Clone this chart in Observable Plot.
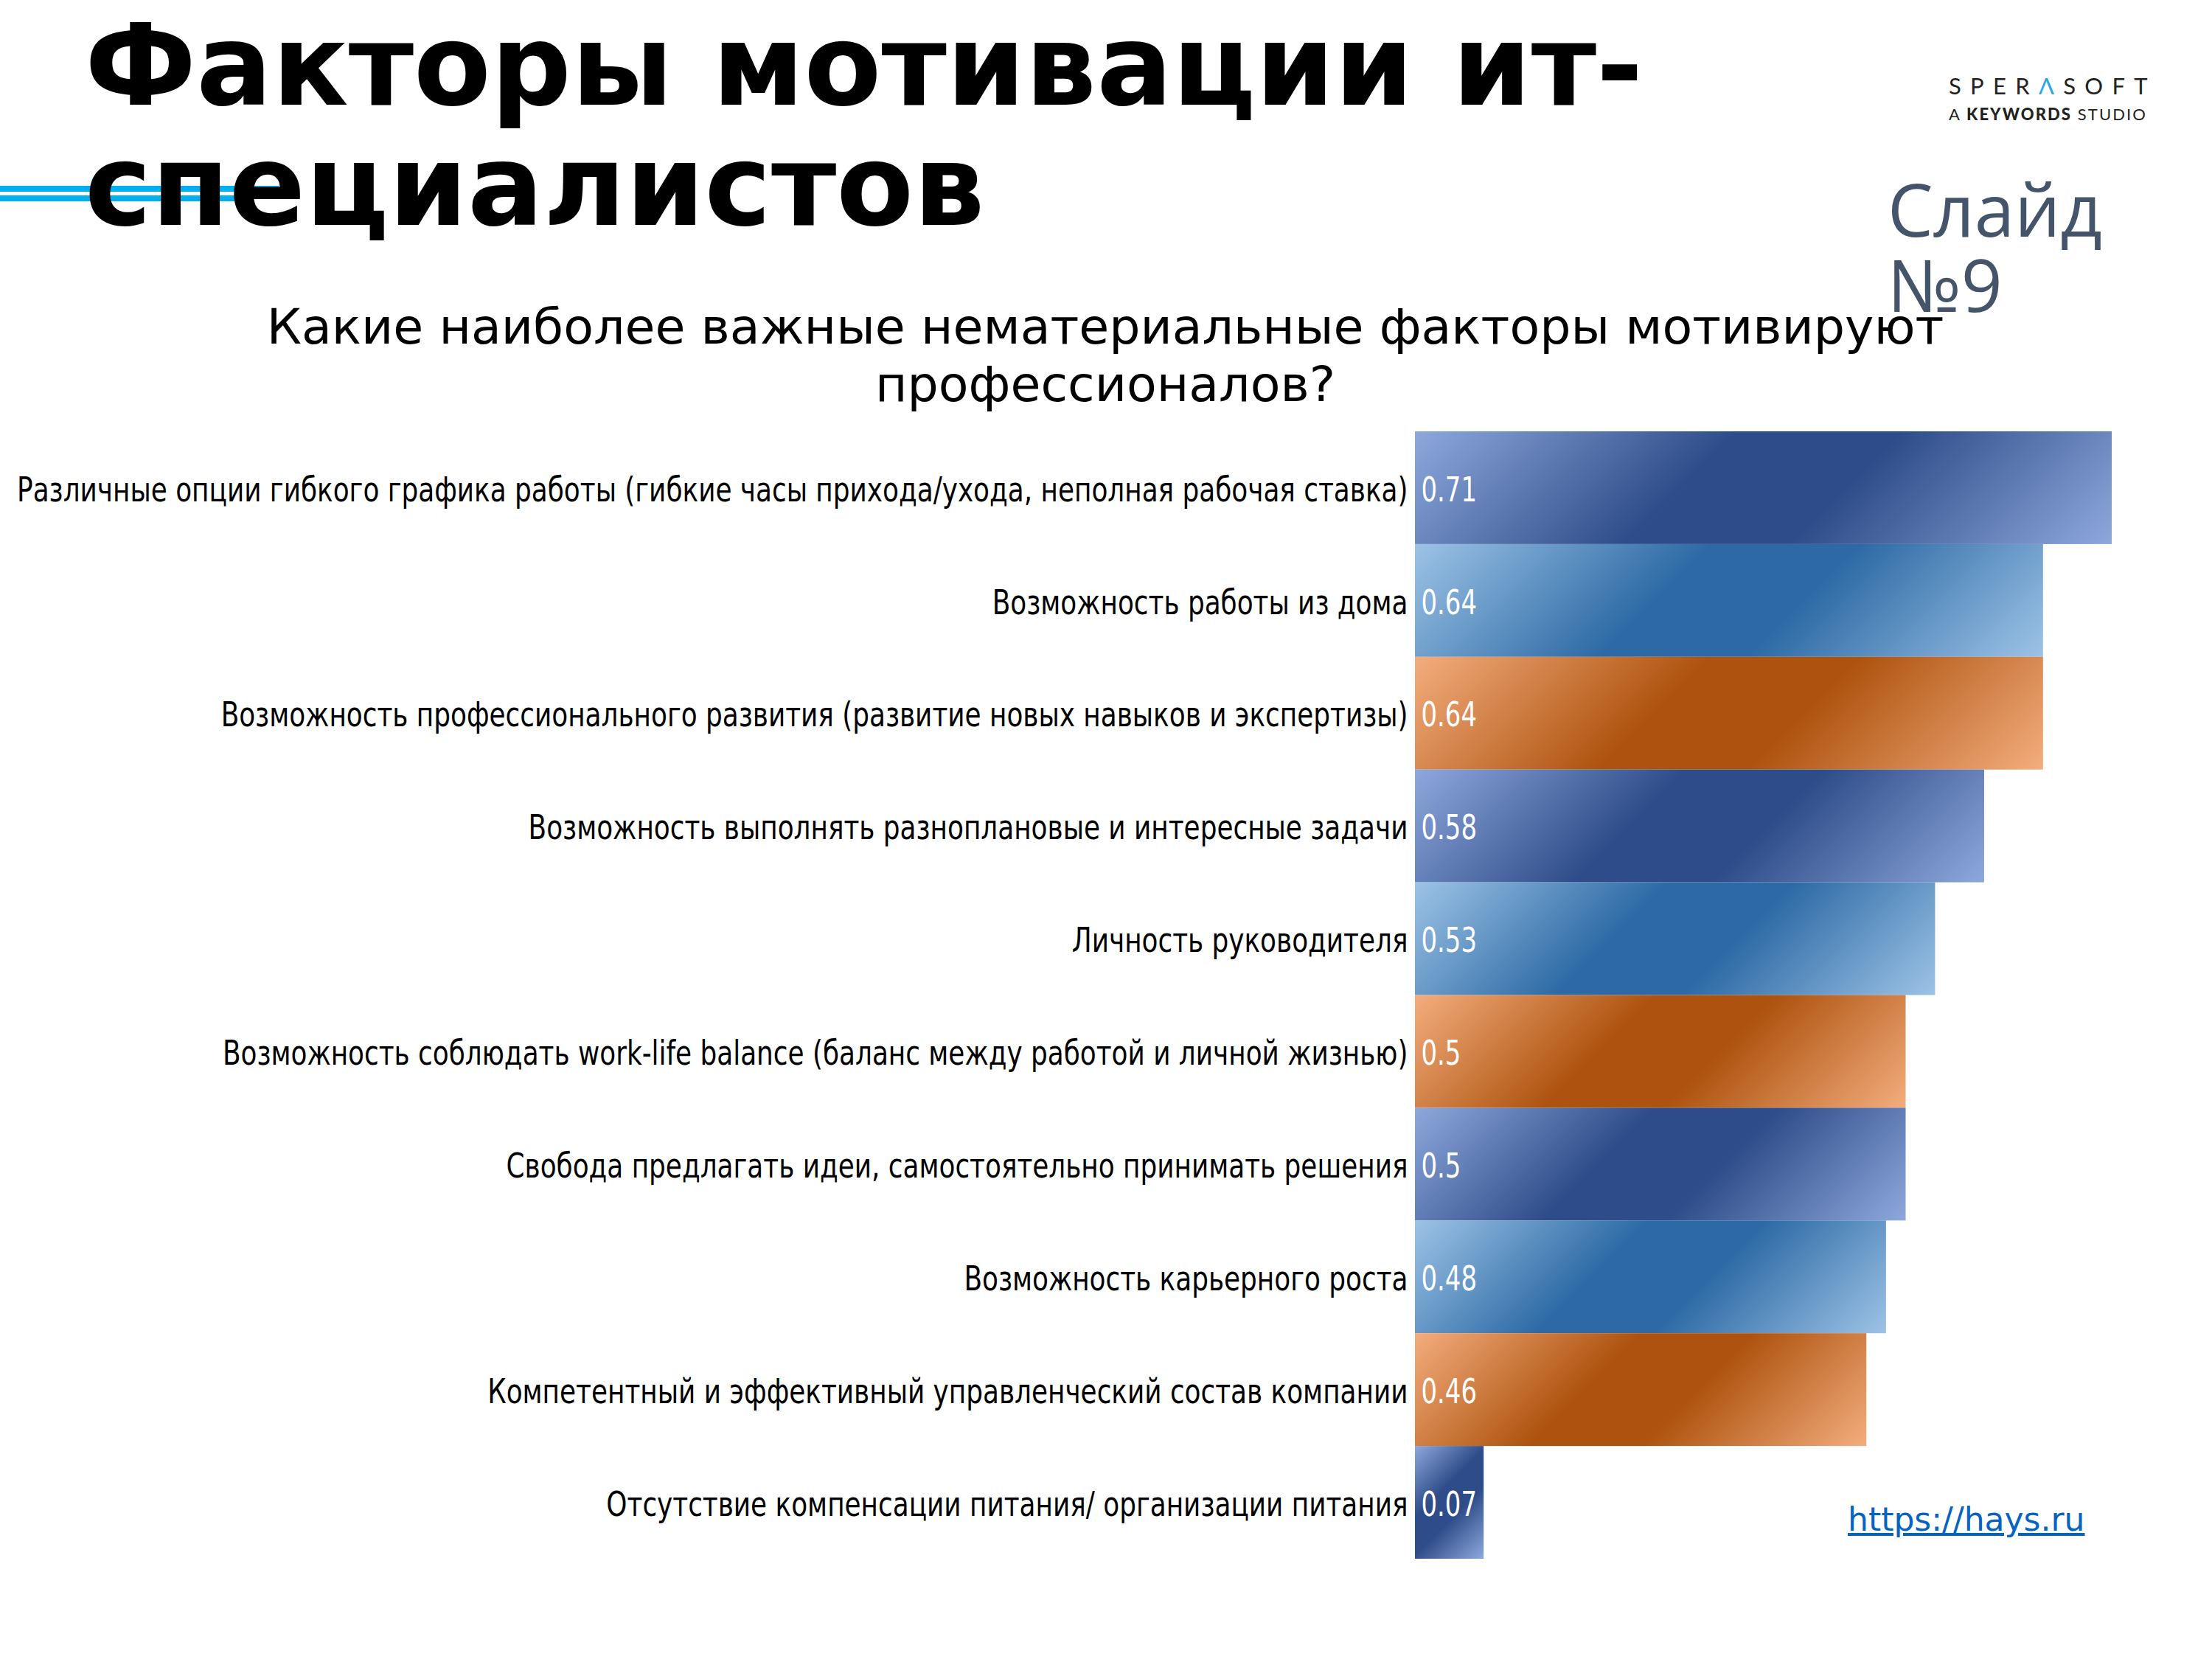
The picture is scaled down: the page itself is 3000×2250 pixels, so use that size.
<!DOCTYPE html>
<html><head><meta charset="utf-8">
<script src="https://cdn.jsdelivr.net/npm/d3@7"></script>
<script src="https://cdn.jsdelivr.net/npm/@observablehq/plot@0.6"></script>
<style>
html,body{margin:0;padding:0;background:#fff;}
#page{position:relative;width:3000px;height:2250px;overflow:hidden;background:#fff;}
#chart{position:absolute;left:0;top:0;z-index:0;}
.deco{position:absolute;left:0;background:#00B0F0;z-index:1;}
#title{position:absolute;left:115px;top:8px;font-family:"DejaVu Sans";font-weight:bold;font-size:152.5px;line-height:163px;color:#000;white-space:nowrap;z-index:2;}
#logo{position:absolute;left:2643px;top:98px;color:#222;z-index:2;font-family:"Lato","DejaVu Sans";}
#logo .l1{font-size:31px;line-height:36px;letter-spacing:12.3px;font-weight:400;}
#logo .l1 .a{color:#29A8E0;}
#logo .l2{font-size:22px;line-height:42px;letter-spacing:2.1px;}
#logo .l2 b{font-weight:900;}
#slide{position:absolute;left:2560px;top:232px;width:440px;font-family:"Open Sans";font-size:98px;line-height:102px;color:#44546A;z-index:2;}
#subtitle{position:absolute;left:299px;top:404px;width:2400px;text-align:center;font-family:"DejaVu Sans";font-size:66.6px;line-height:78px;color:#000;z-index:3;}
#link{position:absolute;left:2506px;top:2036px;font-family:"DejaVu Sans";font-size:44px;line-height:50px;color:#0563C1;text-decoration:underline;z-index:2;}
</style></head><body>
<div id="page">
  <div id="chart"></div>
  <div class="deco" style="top:252px;height:8px;width:378px;"></div>
  <div class="deco" style="top:265px;height:8px;width:330px;"></div>
  <div id="title">Факторы мотивации ит-<br>специалистов</div>
  <div id="logo"><div class="l1">SPER<span class="a">Λ</span>SOFT</div><div class="l2">A <b>KEYWORDS</b> STUDIO</div></div>
  <div id="slide">Слайд №9</div>
  <div id="subtitle">Какие наиболее важные нематериальные факторы мотивируют<br>профессионалов?</div>
  <a id="link" href="https://hays.ru">https://hays.ru</a>
</div>
<script>
const factors = [
  "Различные опции гибкого графика работы (гибкие часы прихода/ухода, неполная рабочая ставка)",
  "Возможность работы из дома",
  "Возможность профессионального развития (развитие новых навыков и экспертизы)",
  "Возможность выполнять разноплановые и интересные задачи",
  "Личность руководителя",
  "Возможность соблюдать work-life balance (баланс между работой и личной жизнью)",
  "Свобода предлагать идеи, самостоятельно принимать решения",
  "Возможность карьерного роста",
  "Компетентный и эффективный управленческий состав компании",
  "Отсутствие компенсации питания/ организации питания"
];
const values = [0.71, 0.64, 0.64, 0.58, 0.53, 0.5, 0.5, 0.48, 0.46, 0.07];
const colorGroups = ["dark","mid","orange","dark","mid","orange","dark","mid","orange","dark"];
const palettes = {
  dark:   [[0, "#8EA8DC"], [0.4, "#2E4C89"], [0.6, "#2E4C89"], [1, "#8EA8DC"]],
  mid:    [[0, "#9DC3E6"], [0.4, "#2D6AA5"], [0.6, "#2D6AA5"], [1, "#9DC3E6"]],
  orange: [[0, "#F3AD7D"], [0.4, "#AE530F"], [0.6, "#AE530F"], [1, "#F3AD7D"]]
};
const data = factors.map((f, i) => ({factor: f, value: values[i], group: colorGroups[i]}));

const svg = Plot.plot({
  width: 3000,
  height: 2250,
  marginTop: 585,
  marginBottom: 136,
  marginLeft: 1919,
  marginRight: 136,
  style: {background: "transparent", fontFamily: "DejaVu Sans Condensed", fontSize: "46px", overflow: "visible"},
  x: {domain: [0, 0.71], axis: null},
  y: {domain: factors, padding: 0, round: false, label: null},
  marks: [
    Plot.barX(data, {x: "value", y: "factor", fill: "#2D4B88"}),
    Plot.text(data, {x: 0, y: "factor", text: d => String(d.value), textAnchor: "start", dx: 8, dy: 3, fill: "white", fontSize: 46}),
    Plot.axisY({tickSize: 0, tickPadding: 10, dy: 3, fontSize: 46, label: null, fill: "black"})
  ]
});
document.getElementById("chart").appendChild(svg);

const s = d3.select(svg);
const defs = s.insert("defs", ":first-child");
s.selectAll('g[aria-label="bar"] rect').each(function(d, i) {
  const idx = typeof d === "number" ? d : i;
  const r = d3.select(this);
  const x = +r.attr("x"), y = +r.attr("y"), w = +r.attr("width"), h = +r.attr("height");
  const t = (w + h) / 2;
  const id = "grad" + idx;
  const lg = defs.append("linearGradient").attr("id", id).attr("gradientUnits", "userSpaceOnUse")
    .attr("x1", x).attr("y1", y).attr("x2", x + t).attr("y2", y + t);
  palettes[data[idx].group].forEach(([o, c]) => lg.append("stop").attr("offset", o).attr("stop-color", c));
  r.attr("fill", `url(#${id})`);
});

// narrow the glyphs horizontally around each text's anchor point
function narrow(sel, sx) {
  sel.each(function() {
    const el = d3.select(this);
    const x = +(el.attr("x") || 0);
    const tr = el.attr("transform") || "";
    el.attr("transform", `${tr} translate(${x},0) scale(${sx},1) translate(${-x},0)`);
  });
}
narrow(s.selectAll('g[aria-label="y-axis tick label"] text'), 0.866);
narrow(s.selectAll('g[aria-label="text"] text'), 0.82);
</script>
</body></html>
